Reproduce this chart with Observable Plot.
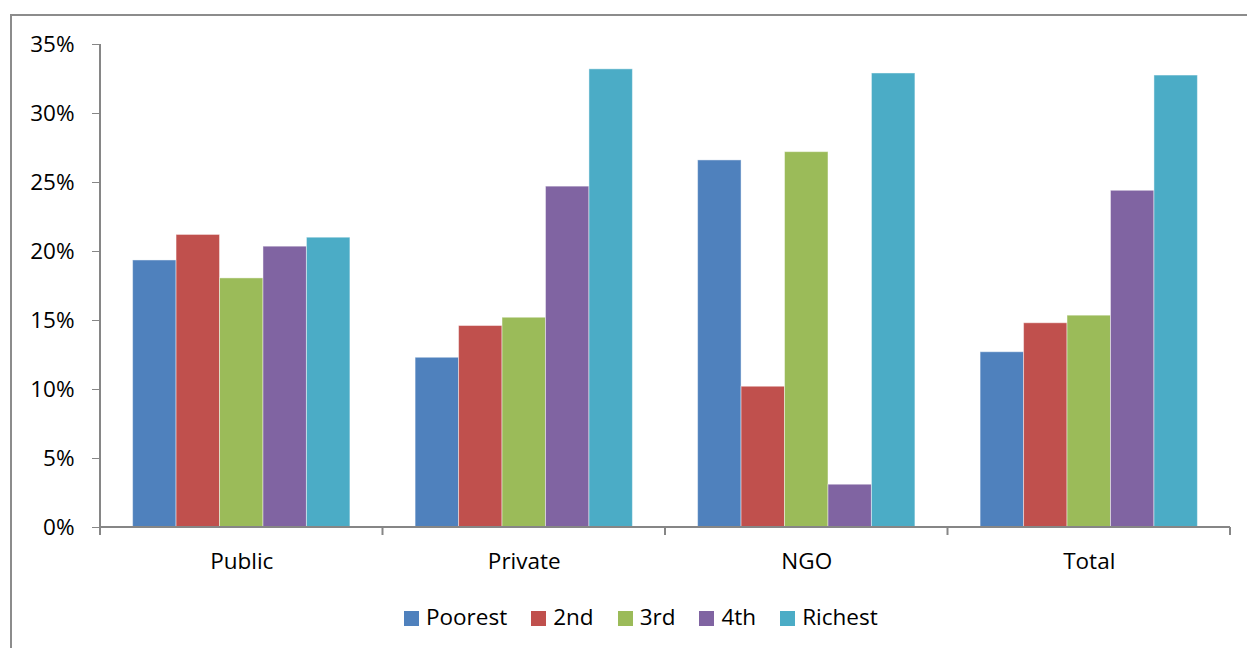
<!DOCTYPE html>
<html>
<head>
<meta charset="utf-8">
<script src="https://cdn.jsdelivr.net/npm/d3@7"></script>
<script src="https://cdn.jsdelivr.net/npm/@observablehq/plot@0.6"></script>
<style>
  html, body { margin: 0; padding: 0; background: #fff; width: 1247px; height: 648px; overflow: hidden; }
  #frame { position: absolute; left: 10px; top: 14px; width: 1260px; height: 660px; border: 2px solid #8c8c8c; box-sizing: border-box; }
  #chart { position: absolute; left: 0; top: 0; }
  #legend { position: absolute; left: 404px; top: 602px; display: flex; align-items: center; font-family: "Open Sans", sans-serif; font-size: 22.5px; line-height: 30px; color: #000; }
  .item { display: flex; align-items: center; margin-right: 24px; }
  .sw { width: 15px; height: 15px; margin-right: 7px; margin-top: 2px; }
</style>
</head>
<body>
<div id="frame"></div>
<div id="chart"></div>
<div id="legend"></div>
<script>
const categories = ["Public", "Private", "NGO", "Total"];
const series = ["Poorest", "2nd", "3rd", "4th", "Richest"];
const colors = ["#4F81BD", "#C0504D", "#9BBB59", "#8064A2", "#4BACC6"];
const yTicks = [0, 5, 10, 15, 20, 25, 30, 35];
// values in percent, one array per series, ordered as categories
const poorest = [19.35, 12.3, 26.6, 12.7];
const second  = [21.2, 14.6, 10.2, 14.8];
const third   = [18.05, 15.2, 27.2, 15.35];
const fourth  = [20.35, 24.7, 3.1, 24.4];
const richest = [21.0, 33.2, 32.9, 32.75];

const seriesValues = [poorest, second, third, fourth, richest];
const data = [];
categories.forEach((c, ci) => {
  series.forEach((s, si) => data.push({category: c, series: s, value: seriesValues[si][ci]}));
});

const W = 1247, H = 580, mL = 100, mR = 17, mT = 44, mB = 53;
const axisColor = "#868686";

const plot = Plot.plot({
  width: W,
  height: H,
  marginLeft: mL,
  marginRight: mR,
  marginTop: mT,
  marginBottom: mB,
  style: {fontFamily: "Open Sans, sans-serif", fontSize: "22.5px", color: "#000", background: "transparent"},
  facet: {data, x: "category"},
  fx: {domain: categories, padding: 0, round: false, axis: "bottom", label: null, tickSize: 0, tickPadding: 26},
  x: {domain: series, paddingInner: 0, paddingOuter: 0.75, round: false, axis: null},
  y: {domain: [0, 35], ticks: yTicks, tickFormat: d => d + "%", tickSize: 8, tickPadding: 18, label: null},
  color: {domain: series, range: colors},
  marks: [
    Plot.barY(data, {x: "series", y: "value", fill: "series", stroke: "#ffffff", strokeOpacity: 0.45, strokeWidth: 1})
  ]
});
document.getElementById("chart").appendChild(plot);

// axis lines (gray) drawn from scales
const svg = d3.select(plot);
svg.selectAll("g[aria-label^='y-axis'] path, g[aria-label^='y-axis'] line").attr("stroke", axisColor);
const y = plot.scale("y");
const y0 = y.apply ? y.apply(0) : H - mB;
const y35 = y.apply ? y.apply(35) : mT;
const x0 = mL, x1 = W - mR;
const step = (x1 - x0) / categories.length;
const g = svg.append("g").attr("stroke", axisColor).attr("stroke-width", 2).attr("fill", "none");
g.append("line").attr("x1", x0).attr("x2", x0).attr("y1", y35).attr("y2", y0 + 8);
g.append("line").attr("x1", x0).attr("x2", x1).attr("y1", y0).attr("y2", y0);
for (let i = 1; i <= categories.length; i++) {
  const xx = x0 + i * step;
  g.append("line").attr("x1", xx).attr("x2", xx).attr("y1", y0).attr("y2", y0 + 8);
}

// legend
const legend = document.getElementById("legend");
series.forEach((s, i) => {
  const it = document.createElement("div");
  it.className = "item";
  const sw = document.createElement("div");
  sw.className = "sw";
  sw.style.background = colors[i];
  const t = document.createElement("span");
  t.textContent = s;
  it.appendChild(sw); it.appendChild(t);
  legend.appendChild(it);
});
</script>
</body>
</html>
